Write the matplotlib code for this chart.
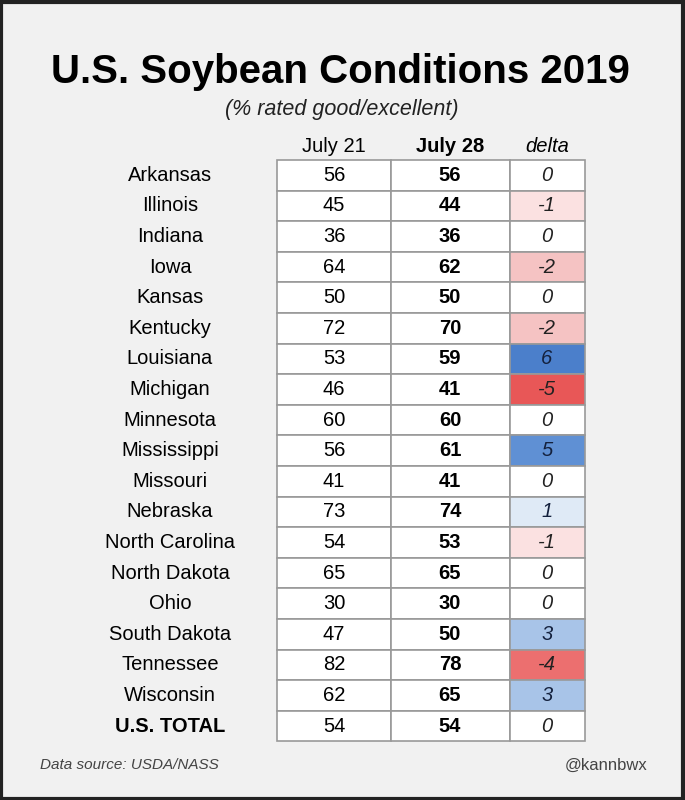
import matplotlib
matplotlib.use("Agg")
import matplotlib.pyplot as plt
from matplotlib.patches import Rectangle

states = ["Arkansas","Illinois","Indiana","Iowa","Kansas","Kentucky","Louisiana","Michigan",
          "Minnesota","Mississippi","Missouri","Nebraska","North Carolina","North Dakota","Ohio",
          "South Dakota","Tennessee","Wisconsin","U.S. TOTAL"]
july21 = [56,45,36,64,50,72,53,46,60,56,41,73,54,65,30,47,82,62,54]
july28 = [56,44,36,62,50,70,59,41,60,61,41,74,53,65,30,50,78,65,54]
delta = [b - a for a, b in zip(july21, july28)]

colors = {0:"#ffffff",-1:"#fbe1e1",-2:"#f5c3c3",-4:"#ec6f6f",-5:"#e85757",
          1:"#dfeaf6",3:"#a8c4e8",5:"#5f90d4",6:"#4b7fcb"}

fig = plt.figure(figsize=(6.85, 8), dpi=100)
fig.patch.set_facecolor("#f1f1f1")
ax = fig.add_axes([0, 0, 1, 1])
ax.set_xlim(0, 685); ax.set_ylim(800, 0); ax.axis("off")
ax.add_patch(Rectangle((1.5, 1.5), 682, 797, fill=False, ec="#222222", lw=3))

ax.text(340, 72, "U.S. Soybean Conditions 2019", ha="center", va="center",
        fontsize=29, fontweight="bold", family="Liberation Sans")
ax.text(342, 109, "(% rated good/excellent)", ha="center", va="center",
        fontsize=15.5, style="italic", family="Liberation Sans", color="#222222")

fs = 14.5
cols = [277, 391, 510, 585]
top, rh = 160, 30.6
ax.text(334, 146, "July 21", ha="center", va="center", fontsize=fs, family="Liberation Sans")
ax.text(450, 146, "July 28", ha="center", va="center", fontsize=fs, fontweight="bold", family="Liberation Sans")
ax.text(547, 146, "delta", ha="center", va="center", fontsize=fs, style="italic", family="Liberation Sans")

for i, s in enumerate(states):
    y0 = top + i * rh
    yc = y0 + rh / 2
    last = i == len(states) - 1
    for j in range(3):
        fc = colors.get(delta[i], "#ffffff") if j == 2 else "#ffffff"
        ax.add_patch(Rectangle((cols[j], y0), cols[j+1] - cols[j], rh, fc=fc, ec="#999999", lw=1.2))
    ax.text(170, yc, s, ha="center", va="center", fontsize=fs, family="Liberation Sans",
            fontweight="bold" if last else "normal")
    ax.text(334, yc, str(july21[i]), ha="center", va="center", fontsize=fs, family="Liberation Sans")
    ax.text(450, yc, str(july28[i]), ha="center", va="center", fontsize=fs, fontweight="bold", family="Liberation Sans")
    dc = "#14213d" if delta[i] > 0 else "#222222"
    ax.text(547, yc, str(delta[i]), ha="center", va="center", fontsize=fs, style="italic",
            family="Liberation Sans", color=dc)

ax.text(40, 765, "Data source: USDA/NASS", ha="left", va="center", fontsize=11, style="italic",
        family="Liberation Sans", color="#444444")
ax.text(648, 765, "@kannbwx", ha="right", va="center", fontsize=12, family="Liberation Sans", color="#444444")

fig.savefig("out.png", dpi=100, facecolor=fig.get_facecolor())
